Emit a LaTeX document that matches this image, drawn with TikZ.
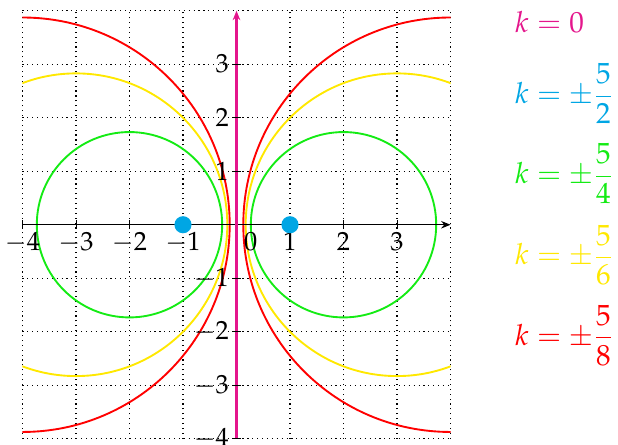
\documentclass[tikz,border=0pt]{standalone}
\usepackage{amsmath}
\usepackage{mathpazo}
\usetikzlibrary{arrows.meta}
\definecolor{mymag}{RGB}{228,22,140}
\definecolor{mycyan}{RGB}{0,166,228}
\definecolor{mygreen}{RGB}{20,235,20}
\definecolor{myyellow}{RGB}{255,232,0}
\definecolor{myred}{RGB}{255,0,0}
\tikzset{
  gridline/.style={dotted, line width=0.6pt, black},
  circ/.style={line width=1pt},
  tick/.style={line width=0.5pt, black},
  ticklab/.style={font=\fontsize{14}{16}\selectfont, inner sep=1pt},
  legend/.style={font=\fontsize{15.5}{18}\selectfont, anchor=west, inner sep=0pt},
  focus/.style={circle, fill=mycyan, minimum size=0.32cm, inner sep=0pt}
}
\begin{document}
\begin{tikzpicture}
\useasboundingbox (-4.42,-4.1) rectangle (7.13,4.2);
% grid
\draw[gridline] (-4,-4) grid (4,4);
% circles
\begin{scope}
\clip (-4,-4) rectangle (4,4);
\draw[circ, mygreen] (2,0) circle ({sqrt(3)});
\draw[circ, mygreen] (-2,0) circle ({sqrt(3)});
\draw[circ, myyellow] (3,0) circle ({sqrt(8)});
\draw[circ, myyellow] (-3,0) circle ({sqrt(8)});
\draw[circ, myred] (4,0) circle ({sqrt(15)});
\draw[circ, myred] (-4,0) circle ({sqrt(15)});
\end{scope}
% axes
\coordinate (xl) at (-4,0);
\coordinate (xr) at (4,0);
\coordinate (yb) at (0,-4);
\coordinate (yt) at (0,4);
\draw[line width=0.6pt, -{Stealth[length=5pt,width=4pt]}] (xl) -- (xr);
\draw[line width=1.1pt, mymag, -{Stealth[length=5pt,width=4pt]}] (yb) -- (yt);
% ticks
\foreach \x in {-4,-3,-2,-1,1,2,3} {
  \draw[tick] (\x,-0.08) -- (\x,0.08);
  \node[ticklab, anchor=north] (tx\x) at (\x,-0.1) {$\x$};
}
\node[ticklab, anchor=north west] (tx0) at (0.1,-0.1) {$0$};
\foreach \y in {-4,-3,-2,-1,1,2,3} {
  \draw[tick] (-0.08,\y) -- (0.08,\y);
  \node[ticklab, anchor=east] (ty\y) at (-0.1,\y) {$\y$};
}
% foci
\node[focus] (fa) at (-1,0) {};
\node[focus] (fb) at (1,0) {};
% legend
\node[legend, mymag] (l0) at (5.2,3.79) {$k=0$};
\node[legend, mycyan] (l1) at (5.2,2.45) {$k=\pm\dfrac{5}{2}$};
\node[legend, mygreen] (l2) at (5.2,0.95) {$k=\pm\dfrac{5}{4}$};
\node[legend, myyellow] (l3) at (5.2,-0.57) {$k=\pm\dfrac{5}{6}$};
\node[legend, myred] (l4) at (5.2,-2.07) {$k=\pm\dfrac{5}{8}$};
\end{tikzpicture}
\end{document}
